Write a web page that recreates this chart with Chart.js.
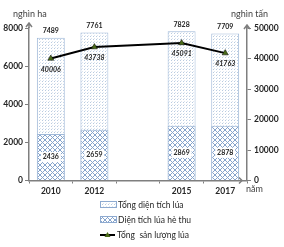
<!DOCTYPE html>
<html><head><meta charset="utf-8">
<script src="https://cdn.jsdelivr.net/npm/chart.js@4"></script>
<style>html,body{margin:0;padding:0;background:#fff}#wrap{width:284px;height:247px;position:relative}</style>
</head><body><div id="wrap"><canvas id="c" width="284" height="247"></canvas></div>
<script>
const years = ['2010', '2012', '', '2015', '2017'];
const totalArea = [7489, 7761, null, 7828, 7709];
const summerArea = [2436, 2659, null, 2869, 2878];
const output = [40006, 43738, null, 45091, 41763];
const leftTicksMax = 8000, leftStep = 2000;
const rightTicksMax = 50000, rightStep = 10000;
const legendLabels = ['Tổng diện tích lúa', 'Diện tích lúa hè thu', 'Tổng  sản lượng lúa'];

function dotPattern() {
  const c = document.createElement('canvas'); c.width = 3; c.height = 3;
  const g = c.getContext('2d');
  g.fillStyle = '#ffffff'; g.fillRect(0, 0, 3, 3);
  g.fillStyle = '#b9cbe0'; g.fillRect(0, 0, 1, 1);
  g.fillStyle = '#dde6f0'; g.fillRect(1, 2, 1, 1);
  return g.createPattern(c, 'repeat');
}
function hatchPattern() {
  const c = document.createElement('canvas'); c.width = 5; c.height = 5;
  const g = c.getContext('2d');
  g.fillStyle = '#ffffff'; g.fillRect(0, 0, 5, 5);
  g.strokeStyle = '#86a4cc'; g.lineWidth = 1;
  g.beginPath();
  g.moveTo(0, 0); g.lineTo(5, 5);
  g.moveTo(5, 0); g.lineTo(0, 5);
  g.stroke();
  return g.createPattern(c, 'repeat');
}
const dots = dotPattern(), hatch = hatchPattern();
const AX = '#7f7f7f';
const FONT = 'Lato, "Liberation Sans", sans-serif';
const plain = v => String(v);

const deco = {
  id: 'deco',
  afterDatasetsDraw(chart) {
    const ctx = chart.ctx, a = chart.chartArea;
    ctx.save();
    ctx.strokeStyle = AX; ctx.lineWidth = 1.5;
    ctx.beginPath();
    ctx.moveTo(a.left, a.top); ctx.lineTo(a.left, a.top - 5);
    ctx.moveTo(a.left - 3, a.top - 1); ctx.lineTo(a.left, a.top - 5); ctx.lineTo(a.left + 3, a.top - 1);
    ctx.moveTo(a.right, a.top); ctx.lineTo(a.right, a.top - 3);
    ctx.moveTo(a.right - 3, a.top + 1); ctx.lineTo(a.right, a.top - 3); ctx.lineTo(a.right + 3, a.top + 1);
    ctx.moveTo(a.right - 8, a.bottom - 3); ctx.lineTo(a.right - 5, a.bottom); ctx.lineTo(a.right - 8, a.bottom + 3);
    ctx.stroke();
    ctx.fillStyle = '#404040';
    ctx.font = '9px ' + FONT;
    ctx.textBaseline = 'middle';
    ctx.textAlign = 'left';
    ctx.fillText('nghìn ha', 13, 14);
    ctx.fillText('nghìn tấn', 231, 14);
    ctx.fillText('năm', 246, 189);
    const mt = chart.getDatasetMeta(0), ms = chart.getDatasetMeta(1), ml = chart.getDatasetMeta(2);
    ctx.textAlign = 'center';
    ctx.font = 'bold 7px ' + FONT;
    ctx.fillStyle = '#262626';
    totalArea.forEach((v, i) => {
      if (v == null) return;
      const el = mt.data[i];
      ctx.fillText(String(v), el.x, el.y - 7);
    });
    summerArea.forEach((v, i) => {
      if (v == null) return;
      const el = ms.data[i];
      const cy = (el.y + el.base) / 2;
      ctx.fillStyle = '#ffffff';
      ctx.fillRect(el.x - 10, cy - 5, 20, 10);
      ctx.fillStyle = '#262626';
      ctx.fillText(String(v), el.x, cy);
    });
    ctx.font = 'italic bold 7px ' + FONT;
    output.forEach((v, i) => {
      if (v == null) return;
      const el = ml.data[i];
      ctx.fillText(String(v), el.x, el.y + 11);
    });
    const lx = 100;
    const rows = [205, 220, 235];
    ctx.textAlign = 'left';
    ctx.font = '8.5px ' + FONT;
    [dots, hatch].forEach((p, k) => {
      ctx.fillStyle = p;
      ctx.fillRect(lx, rows[k] - 4, 17, 7);
      ctx.strokeStyle = '#8eaad0'; ctx.lineWidth = 1;
      ctx.strokeRect(lx + 0.5, rows[k] - 3.5, 16, 6);
      ctx.fillStyle = '#262626';
      ctx.fillText(legendLabels[k], lx + 18, rows[k]);
    });
    ctx.strokeStyle = '#000'; ctx.lineWidth = 2;
    ctx.beginPath(); ctx.moveTo(lx, rows[2]); ctx.lineTo(lx + 15, rows[2]); ctx.stroke();
    ctx.fillStyle = '#4a6b1a';
    ctx.beginPath(); ctx.moveTo(lx + 7.5, rows[2] - 3); ctx.lineTo(lx + 10.5, rows[2] + 2); ctx.lineTo(lx + 4.5, rows[2] + 2); ctx.closePath(); ctx.fill();
    ctx.fillStyle = '#262626';
    ctx.fillText(legendLabels[2], lx + 17, rows[2]);
    ctx.restore();
  }
};

new Chart(document.getElementById('c'), {
  data: {
    labels: years,
    datasets: [
      { type: 'bar', data: totalArea, backgroundColor: dots, borderColor: '#9fb8d8', borderWidth: 1, grouped: false, order: 2, yAxisID: 'y', categoryPercentage: 1, barPercentage: 0.64 },
      { type: 'bar', data: summerArea, backgroundColor: hatch, borderColor: '#9fb8d8', borderWidth: 1, grouped: false, order: 1, yAxisID: 'y', categoryPercentage: 1, barPercentage: 0.64 },
      { type: 'line', data: output, borderColor: '#000', borderWidth: 2, spanGaps: true, pointStyle: 'triangle', pointRadius: 3.5, pointBackgroundColor: '#4a6b1a', pointBorderColor: '#000', pointBorderWidth: 0.5, order: 0, yAxisID: 'y2', tension: 0 }
    ]
  },
  options: {
    responsive: false, animation: false,
    layout: { padding: { top: 28, left: 0, right: 0, bottom: 46.5 } },
    plugins: { legend: { display: false }, tooltip: { enabled: false } },
    scales: {
      x: {
        offset: true,
        afterFit(s) { s.height = 20; },
        grid: { display: true, drawOnChartArea: false, offset: true, tickLength: 3, color: AX, lineWidth: 1 },
        border: { color: AX, width: 1.5 },
        ticks: { color: '#262626', font: { family: FONT, size: 8.5, weight: 'bold' }, padding: 3, maxRotation: 0, autoSkip: false }
      },
      y: {
        position: 'left', min: 0, max: leftTicksMax,
        afterFit(s) { s.width = 29; },
        grid: { display: true, drawOnChartArea: false, tickLength: 4, color: AX },
        border: { color: AX, width: 1.5 },
        ticks: { stepSize: leftStep, callback: plain, color: '#262626', font: { family: FONT, size: 8.5, weight: 'bold' }, padding: 2 }
      },
      y2: {
        position: 'right', min: 0, max: rightTicksMax,
        afterFit(s) { s.width = 37; },
        grid: { display: true, drawOnChartArea: false, tickLength: 4, color: AX },
        border: { color: AX, width: 1.5 },
        ticks: { stepSize: rightStep, callback: plain, color: '#262626', font: { family: FONT, size: 8.5, weight: 'bold' }, padding: 3 }
      }
    }
  },
  plugins: [deco]
});
</script></body></html>
